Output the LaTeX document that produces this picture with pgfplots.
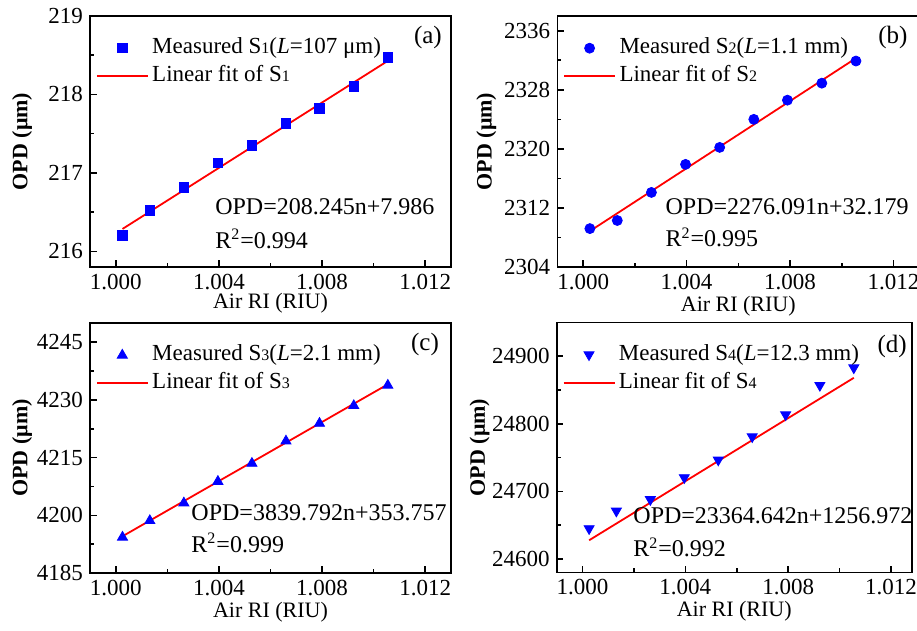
\documentclass[border=0pt]{standalone}
\usepackage{fontspec}
\setmainfont{Liberation Serif}
\usepackage{pgfplots}
\pgfplotsset{compat=1.18}

\definecolor{mblue}{RGB}{0,0,255}
\definecolor{fitred}{RGB}{255,0,0}

% small digit used for the sensor index (S1, S2, ...)
\newcommand\idx[1]{{\fontsize{8}{8}\selectfont #1}}

\tikzset{
  eqn/.style={anchor=base west, inner sep=0pt, font=\fontsize{12}{14}\selectfont},
  tag/.style={font=\fontsize{12.5}{15}\selectfont},
}

\pgfplotsset{
  panel/.style={
    scale only axis,
    xmin=0.999, xmax=1.013,
    xtick={1.000,1.004,1.008,1.012},
    minor x tick num=1, minor y tick num=1,
    scaled ticks=false,
    tick align=inside, xtick pos=bottom, ytick pos=left,
    major tick length=3.3pt, minor tick length=2pt,
    every tick/.style={black, line width=0.8pt},
    axis line style={line width=0.8pt},
    /pgf/number format/assume math mode=true,
    x tick label style={/pgf/number format/.cd, fixed, fixed zerofill, precision=3, /tikz/.cd},
    y tick label style={/pgf/number format/.cd, fixed, 1000 sep={}, /tikz/.cd},
    tick label style={font=\fontsize{11.5}{13}\selectfont},
    label style={font=\fontsize{11}{13}\selectfont},
    xlabel={Air RI (RIU)},
    ylabel={\bfseries OPD (μm)},
    xlabel style={at={(axis description cs:0.5,0)}, anchor=center, yshift=-19.5pt},
    ylabel style={anchor=center},
    legend style={draw=none, fill=none, at={(axis description cs:0,1)},
      anchor=north west, inner xsep=2.75pt, inner ysep=8.9pt,
      font=\fontsize{11.5}{14}\selectfont,
      nodes={inner sep=1.75pt, text height=8pt, text depth=2.5pt},
      cells={anchor=west}},
    legend cell align=left,
  },
  meas/.style={only marks, mblue, mark options={fill=mblue, draw=mblue},
    legend image code/.code={\draw[##1] plot coordinates {(12.75pt,0pt)};}},
  fit/.style={fitred, line width=0.9pt, mark=none,
    legend image code/.code={\draw[##1] (0pt,0pt) -- (25.5pt,0pt);}},
}

\begin{document}
\begin{tikzpicture}
\useasboundingbox (0pt,0pt) rectangle (458.5pt,315.5pt);

% (a) sensor S1
\begin{axis}[panel, at={(45pt,182pt)}, anchor=south west,
  width=180.5pt, height=125.5pt,
  ymin=215.8, ymax=219, ytick={216,217,218,219},
  xlabel style={yshift=1.2pt},
  ylabel style={at={(axis description cs:-0.188,0.5)}}]
\addplot[meas, mark=square*, mark size=2.35pt] coordinates {
  (1.00026,216.204) (1.00132,216.523) (1.00264,216.816) (1.00396,217.130)
  (1.00528,217.350) (1.00660,217.633) (1.00790,217.820) (1.00923,218.100)
  (1.01055,218.470)};
\addlegendentry{Measured S\idx{1}(\textit{L}=107 μm)}
\addplot[fit] coordinates {(1.00026,216.2851) (1.01055,218.4280)};
\addlegendentry{Linear fit of S\idx{1}}
\node[eqn] at (rel axis cs:0.346,0.21) {OPD=208.245n+7.986};
\node[eqn] at (rel axis cs:0.346,0.0745) {R\textsuperscript{2}=0.994};
\node[tag] at (rel axis cs:0.936,0.916) {(a)};
\end{axis}

% (b) sensor S2
\begin{axis}[panel, at={(278.65pt,182pt)}, anchor=south west,
  width=181pt, height=125.5pt,
  ymin=2304, ymax=2338, ytick={2304,2312,2320,2328,2336},
  ylabel style={at={(axis description cs:-0.196,0.5)}}]
\addplot[meas, mark=*, mark size=2.5pt] coordinates {
  (1.00026,2309.2) (1.00132,2310.3) (1.00264,2314.1) (1.00396,2317.9)
  (1.00528,2320.2) (1.00660,2324.0) (1.00790,2326.6) (1.00923,2328.9)
  (1.01055,2331.9)};
\addlegendentry{Measured S\idx{2}(\textit{L}=1.1 mm)}
\addplot[fit] coordinates {(1.00026,2308.8618) (1.01055,2332.2828)};
\addlegendentry{Linear fit of S\idx{2}}
\node[eqn] at (rel axis cs:0.298,0.209) {OPD=2276.091n+32.179};
\node[eqn] at (rel axis cs:0.298,0.08) {R\textsuperscript{2}=0.995};
\node[tag] at (rel axis cs:0.927,0.915) {(b)};
\end{axis}

% (c) sensor S3
\begin{axis}[panel, at={(45pt,29pt)}, anchor=south west,
  width=180.5pt, height=125pt,
  ymin=4185, ymax=4250, ytick={4185,4200,4215,4230,4245},
  ylabel style={at={(axis description cs:-0.188,0.5)}}]
\addplot[meas, mark=triangle*, mark size=2.9pt] coordinates {
  (1.00026,4194.3) (1.00132,4198.6) (1.00264,4203.2) (1.00396,4208.8)
  (1.00528,4213.5) (1.00660,4219.3) (1.00790,4223.9) (1.00923,4228.5)
  (1.01055,4233.8)};
\addlegendentry{Measured S\idx{3}(\textit{L}=2.1 mm)}
\addplot[fit] coordinates {(1.00026,4194.5474) (1.01055,4234.0588)};
\addlegendentry{Linear fit of S\idx{3}}
\node[eqn] at (rel axis cs:0.28,0.21) {OPD=3839.792n+353.757};
\node[eqn] at (rel axis cs:0.28,0.082) {R\textsuperscript{2}=0.999};
\node[tag] at (rel axis cs:0.928,0.913) {(c)};
\end{axis}

% (d) sensor S4
\begin{axis}[panel, at={(278.35pt,29.25pt)}, anchor=south west,
  width=177.5pt, height=125pt, xmax=1.0128,
  ymin=24580, ymax=24950, ytick={24600,24700,24800,24900},
  ylabel style={at={(axis description cs:-0.217,0.5)}}]
\addplot[meas, mark=triangle*, mark size=2.9pt, mark options={rotate=180}] coordinates {
  (1.00026,24645) (1.00132,24671) (1.00264,24688) (1.00396,24720.5)
  (1.00528,24746.6) (1.00660,24781) (1.00790,24813.5) (1.00923,24857)
  (1.01055,24883)};
\addlegendentry{Measured S\idx{4}(\textit{L}=12.3 mm)}
\addplot[fit] coordinates {(1.00026,24627.6888) (1.01055,24868.1110)};
\addlegendentry{Linear fit of S\idx{4}}
\node[eqn] at (rel axis cs:0.215,0.194) {OPD=23364.642n+1256.972};
\node[eqn] at (rel axis cs:0.215,0.063) {R\textsuperscript{2}=0.992};
\node[tag] at (rel axis cs:0.945,0.903) {(d)};
\end{axis}
\end{tikzpicture}
\end{document}
